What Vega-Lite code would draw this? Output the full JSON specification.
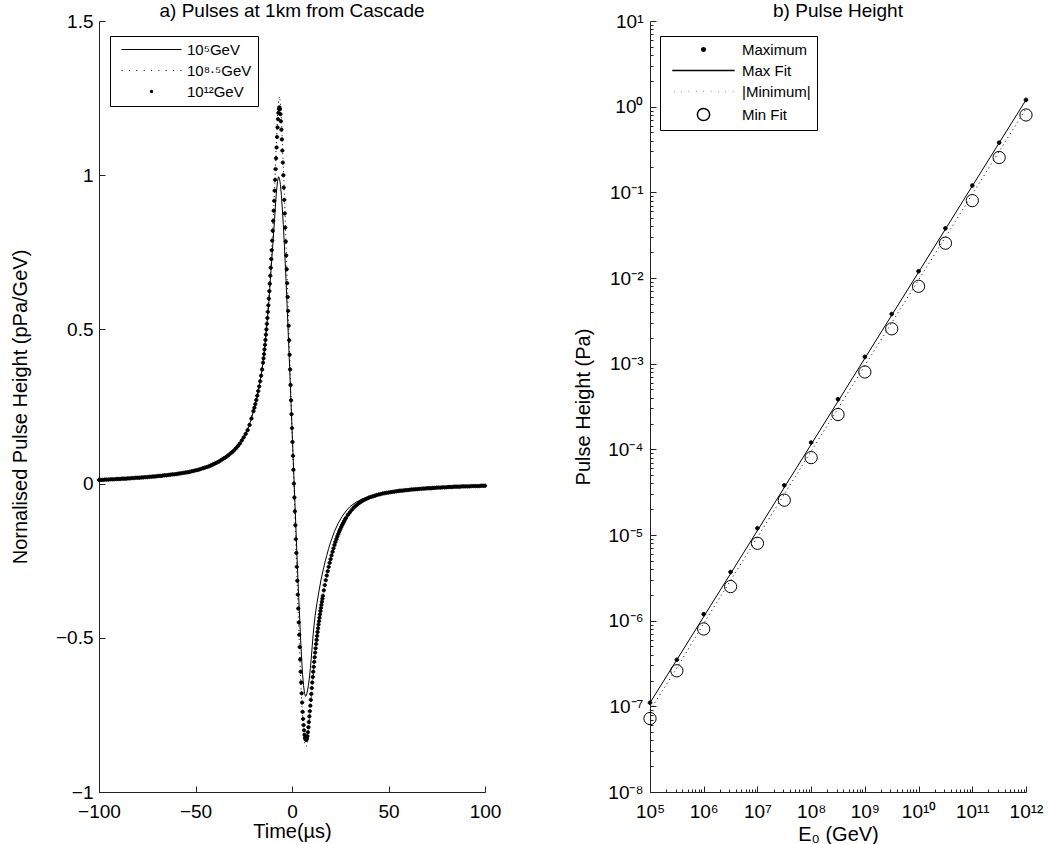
{
  "$schema": "https://vega.github.io/schema/vega-lite/v6.json",
  "background": "white",
  "padding": {"left": 10, "top": 2, "right": 4, "bottom": 2},
  "spacing": 72,
  "resolve": {"scale": {"shape": "independent", "fill": "independent"}, "legend": {"shape": "independent", "fill": "independent"}},
  "config": {
    "font": "Liberation Sans",
    "view": {"stroke": null},
    "axis": {"grid": false, "domainColor": "#222222", "tickColor": "#222222", "labelColor": "#000000", "titleColor": "#000000", "labelFontSize": 19, "titleFontSize": 20, "titleFontWeight": "normal", "domainWidth": 1, "tickWidth": 1, "labelFlush": false},
    "title": {"fontSize": 19, "fontWeight": "normal", "color": "#000000", "offset": -9},
    "legend": {"labelFont": "Liberation Sans", "labelFontSize": 14, "labelColor": "#000000"}
  },
  "datasets": {
    "d12": [
      {"t":-100,"v":0.012},{"t":-99,"v":0.012},{"t":-98,"v":0.012},{"t":-97,"v":0.013},{"t":-96,"v":0.013},{"t":-95,"v":0.013},{"t":-94,"v":0.014},{"t":-93,"v":0.014},{"t":-92,"v":0.014},{"t":-91,"v":0.015},
      {"t":-90,"v":0.015},{"t":-89,"v":0.015},{"t":-88,"v":0.016},{"t":-87,"v":0.016},{"t":-86,"v":0.016},{"t":-85,"v":0.017},{"t":-84,"v":0.017},{"t":-83,"v":0.018},{"t":-82,"v":0.018},{"t":-81,"v":0.019},
      {"t":-80,"v":0.019},{"t":-79,"v":0.019},{"t":-78,"v":0.020},{"t":-77,"v":0.020},{"t":-76,"v":0.021},{"t":-75,"v":0.021},{"t":-74,"v":0.022},{"t":-73,"v":0.022},{"t":-72,"v":0.023},{"t":-71,"v":0.023},
      {"t":-70,"v":0.024},{"t":-69,"v":0.025},{"t":-68,"v":0.025},{"t":-67,"v":0.026},{"t":-66,"v":0.027},{"t":-65,"v":0.027},{"t":-64,"v":0.028},{"t":-63,"v":0.029},{"t":-62,"v":0.030},{"t":-61,"v":0.030},
      {"t":-60,"v":0.031},{"t":-59,"v":0.032},{"t":-58,"v":0.033},{"t":-57,"v":0.034},{"t":-56,"v":0.035},{"t":-55,"v":0.036},{"t":-54,"v":0.037},{"t":-53,"v":0.038},{"t":-52,"v":0.040},{"t":-51,"v":0.041},
      {"t":-50,"v":0.043},{"t":-49,"v":0.044},{"t":-48,"v":0.046},{"t":-47,"v":0.048},{"t":-46,"v":0.050},{"t":-45,"v":0.052},{"t":-44,"v":0.054},{"t":-43,"v":0.056},{"t":-42,"v":0.059},{"t":-41,"v":0.062},
      {"t":-40,"v":0.065},{"t":-39,"v":0.068},{"t":-38,"v":0.071},{"t":-37,"v":0.075},{"t":-36,"v":0.079},{"t":-35,"v":0.083},{"t":-34,"v":0.087},{"t":-33,"v":0.092},{"t":-32,"v":0.097},{"t":-31,"v":0.102},
      {"t":-30,"v":0.108},{"t":-29,"v":0.115},{"t":-28,"v":0.122},{"t":-27,"v":0.130},{"t":-26,"v":0.140},{"t":-25,"v":0.150},{"t":-24,"v":0.161},{"t":-23,"v":0.173},{"t":-22,"v":0.190},{"t":-21,"v":0.211},
      {"t":-20,"v":0.235},{"t":-19.5,"v":0.246},{"t":-19,"v":0.258},{"t":-18.5,"v":0.271},{"t":-18,"v":0.285},{"t":-17.5,"v":0.300},{"t":-17,"v":0.315},{"t":-16.5,"v":0.332},{"t":-16,"v":0.350},{"t":-15.5,"v":0.370},
      {"t":-15,"v":0.392},{"t":-14.75,"v":0.406},{"t":-14.5,"v":0.420},{"t":-14.25,"v":0.435},{"t":-14,"v":0.450},{"t":-13.75,"v":0.466},{"t":-13.5,"v":0.483},{"t":-13.25,"v":0.500},{"t":-13,"v":0.518},{"t":-12.75,"v":0.537},
      {"t":-12.5,"v":0.557},{"t":-12.25,"v":0.578},{"t":-12,"v":0.600},{"t":-11.75,"v":0.624},{"t":-11.5,"v":0.648},{"t":-11.25,"v":0.674},{"t":-11,"v":0.700},{"t":-10.75,"v":0.728},{"t":-10.5,"v":0.757},{"t":-10.25,"v":0.788},
      {"t":-10,"v":0.820},{"t":-9.75,"v":0.852},{"t":-9.5,"v":0.885},{"t":-9.25,"v":0.917},{"t":-9,"v":0.950},{"t":-8.75,"v":0.985},{"t":-8.5,"v":1.020},{"t":-8.25,"v":1.055},{"t":-8,"v":1.090},{"t":-7.75,"v":1.124},
      {"t":-7.5,"v":1.155},{"t":-7.25,"v":1.182},{"t":-7,"v":1.202},{"t":-6.75,"v":1.215},{"t":-6.5,"v":1.220},{"t":-6.25,"v":1.214},{"t":-6,"v":1.198},{"t":-5.75,"v":1.175},{"t":-5.5,"v":1.148},{"t":-5.25,"v":1.116},
      {"t":-5,"v":1.080},{"t":-4.75,"v":1.041},{"t":-4.5,"v":1.000},{"t":-4.25,"v":0.960},{"t":-4,"v":0.920},{"t":-3.75,"v":0.876},{"t":-3.5,"v":0.830},{"t":-3.25,"v":0.785},{"t":-3,"v":0.740},{"t":-2.75,"v":0.695},
      {"t":-2.5,"v":0.650},{"t":-2.25,"v":0.605},{"t":-2,"v":0.560},{"t":-1.75,"v":0.512},{"t":-1.5,"v":0.465},{"t":-1.25,"v":0.418},{"t":-1,"v":0.370},{"t":-0.75,"v":0.320},{"t":-0.5,"v":0.270},{"t":-0.25,"v":0.225},
      {"t":0,"v":0.180},{"t":0.25,"v":0.135},{"t":0.5,"v":0.090},{"t":0.75,"v":0.045},{"t":1,"v":0.000},{"t":1.25,"v":-0.045},{"t":1.5,"v":-0.090},{"t":1.75,"v":-0.135},{"t":2,"v":-0.180},{"t":2.25,"v":-0.225},
      {"t":2.5,"v":-0.270},{"t":2.75,"v":-0.315},{"t":3,"v":-0.360},{"t":3.25,"v":-0.405},{"t":3.5,"v":-0.450},{"t":3.75,"v":-0.490},{"t":4,"v":-0.530},{"t":4.25,"v":-0.570},{"t":4.5,"v":-0.610},{"t":4.75,"v":-0.645},
      {"t":5,"v":-0.680},{"t":5.25,"v":-0.710},{"t":5.5,"v":-0.740},{"t":5.75,"v":-0.763},{"t":6,"v":-0.783},{"t":6.25,"v":-0.800},{"t":6.5,"v":-0.815},{"t":6.75,"v":-0.824},{"t":7,"v":-0.829},{"t":7.25,"v":-0.831},
      {"t":7.5,"v":-0.830},{"t":7.75,"v":-0.826},{"t":8,"v":-0.819},{"t":8.25,"v":-0.806},{"t":8.5,"v":-0.790},{"t":8.75,"v":-0.773},{"t":9,"v":-0.755},{"t":9.25,"v":-0.738},{"t":9.5,"v":-0.720},{"t":9.75,"v":-0.701},
      {"t":10,"v":-0.682},{"t":10.25,"v":-0.663},{"t":10.5,"v":-0.645},{"t":10.75,"v":-0.627},{"t":11,"v":-0.610},{"t":11.25,"v":-0.594},{"t":11.5,"v":-0.578},{"t":11.75,"v":-0.563},{"t":12,"v":-0.548},{"t":12.25,"v":-0.534},
      {"t":12.5,"v":-0.520},{"t":12.75,"v":-0.507},{"t":13,"v":-0.494},{"t":13.25,"v":-0.481},{"t":13.5,"v":-0.469},{"t":13.75,"v":-0.457},{"t":14,"v":-0.446},{"t":14.25,"v":-0.435},{"t":14.5,"v":-0.424},{"t":14.75,"v":-0.413},
      {"t":15,"v":-0.403},{"t":15.25,"v":-0.393},{"t":15.5,"v":-0.383},{"t":15.75,"v":-0.373},{"t":16,"v":-0.364},{"t":16.5,"v":-0.346},{"t":17,"v":-0.329},{"t":17.5,"v":-0.313},{"t":18,"v":-0.298},{"t":18.5,"v":-0.284},
      {"t":19,"v":-0.270},{"t":19.5,"v":-0.257},{"t":20,"v":-0.245},{"t":20.5,"v":-0.233},{"t":21,"v":-0.221},{"t":21.5,"v":-0.210},{"t":22,"v":-0.199},{"t":22.5,"v":-0.189},{"t":23,"v":-0.180},{"t":23.5,"v":-0.171},
      {"t":24,"v":-0.163},{"t":24.5,"v":-0.155},{"t":25,"v":-0.148},{"t":25.5,"v":-0.141},{"t":26,"v":-0.134},{"t":26.5,"v":-0.128},{"t":27,"v":-0.122},{"t":27.5,"v":-0.116},{"t":28,"v":-0.111},{"t":29,"v":-0.101},
      {"t":30,"v":-0.093},{"t":31,"v":-0.085},{"t":32,"v":-0.078},{"t":33,"v":-0.072},{"t":34,"v":-0.067},{"t":35,"v":-0.062},{"t":36,"v":-0.058},{"t":37,"v":-0.054},{"t":38,"v":-0.051},{"t":39,"v":-0.048},
      {"t":40,"v":-0.045},{"t":41,"v":-0.043},{"t":42,"v":-0.041},{"t":43,"v":-0.039},{"t":44,"v":-0.037},{"t":45,"v":-0.035},{"t":46,"v":-0.034},{"t":47,"v":-0.032},{"t":48,"v":-0.031},{"t":49,"v":-0.030},
      {"t":50,"v":-0.029},{"t":51,"v":-0.028},{"t":52,"v":-0.027},{"t":53,"v":-0.026},{"t":54,"v":-0.025},{"t":55,"v":-0.024},{"t":56,"v":-0.023},{"t":57,"v":-0.023},{"t":58,"v":-0.022},{"t":59,"v":-0.021},
      {"t":60,"v":-0.021},{"t":61,"v":-0.020},{"t":62,"v":-0.019},{"t":63,"v":-0.019},{"t":64,"v":-0.018},{"t":65,"v":-0.018},{"t":66,"v":-0.017},{"t":67,"v":-0.017},{"t":68,"v":-0.016},{"t":69,"v":-0.016},
      {"t":70,"v":-0.015},{"t":71,"v":-0.015},{"t":72,"v":-0.015},{"t":73,"v":-0.014},{"t":74,"v":-0.014},{"t":75,"v":-0.013},{"t":76,"v":-0.013},{"t":77,"v":-0.013},{"t":78,"v":-0.012},{"t":79,"v":-0.012},
      {"t":80,"v":-0.012},{"t":81,"v":-0.011},{"t":82,"v":-0.011},{"t":83,"v":-0.011},{"t":84,"v":-0.010},{"t":85,"v":-0.010},{"t":86,"v":-0.010},{"t":87,"v":-0.010},{"t":88,"v":-0.009},{"t":89,"v":-0.009},
      {"t":90,"v":-0.009},{"t":91,"v":-0.009},{"t":92,"v":-0.009},{"t":93,"v":-0.008},{"t":94,"v":-0.008},{"t":95,"v":-0.008},{"t":96,"v":-0.008},{"t":97,"v":-0.008},{"t":98,"v":-0.007},{"t":99,"v":-0.007},
      {"t":100,"v":-0.007}
    ],
    "d5": [
      {"t":-100,"v":0.012},{"t":-90,"v":0.015},{"t":-80,"v":0.019},{"t":-70,"v":0.024},{"t":-60,"v":0.031},{"t":-50,"v":0.043},{"t":-45,"v":0.052},{"t":-40,"v":0.065},{"t":-35,"v":0.083},{"t":-30,"v":0.108},
      {"t":-27,"v":0.130},{"t":-25,"v":0.150},{"t":-23,"v":0.173},{"t":-21,"v":0.211},{"t":-20,"v":0.235},{"t":-19,"v":0.258},{"t":-18,"v":0.285},{"t":-17,"v":0.315},{"t":-16,"v":0.350},{"t":-15,"v":0.392},
      {"t":-14,"v":0.450},{"t":-13,"v":0.515},{"t":-12,"v":0.590},{"t":-11,"v":0.680},{"t":-10,"v":0.770},{"t":-9,"v":0.860},{"t":-8.5,"v":0.910},{"t":-8,"v":0.950},{"t":-7.5,"v":0.980},{"t":-7,"v":0.995},
      {"t":-6.5,"v":0.990},{"t":-6,"v":0.970},{"t":-5.5,"v":0.935},{"t":-5,"v":0.890},{"t":-4.5,"v":0.840},{"t":-4,"v":0.780},{"t":-3.5,"v":0.715},{"t":-3,"v":0.645},{"t":-2.5,"v":0.570},{"t":-2,"v":0.495},
      {"t":-1.5,"v":0.420},{"t":-1,"v":0.340},{"t":-0.5,"v":0.260},{"t":0,"v":0.180},{"t":0.5,"v":0.100},{"t":1,"v":0.020},{"t":1.5,"v":-0.060},{"t":2,"v":-0.140},{"t":2.5,"v":-0.220},{"t":3,"v":-0.300},
      {"t":3.5,"v":-0.370},{"t":4,"v":-0.440},{"t":4.5,"v":-0.510},{"t":5,"v":-0.570},{"t":5.5,"v":-0.620},{"t":6,"v":-0.655},{"t":6.5,"v":-0.680},{"t":7,"v":-0.690},{"t":7.5,"v":-0.686},{"t":8,"v":-0.672},
      {"t":8.5,"v":-0.655},{"t":9,"v":-0.630},{"t":9.5,"v":-0.600},{"t":10,"v":-0.565},{"t":10.5,"v":-0.525},{"t":11,"v":-0.487},{"t":11.5,"v":-0.455},{"t":12,"v":-0.427},{"t":13,"v":-0.385},{"t":14,"v":-0.348},
      {"t":15,"v":-0.313},{"t":16,"v":-0.284},{"t":17,"v":-0.257},{"t":18,"v":-0.233},{"t":19,"v":-0.210},{"t":20,"v":-0.190},{"t":22,"v":-0.155},{"t":24,"v":-0.128},{"t":26,"v":-0.106},{"t":28,"v":-0.089},
      {"t":30,"v":-0.075},{"t":33,"v":-0.061},{"t":36,"v":-0.051},{"t":40,"v":-0.042},{"t":45,"v":-0.034},{"t":50,"v":-0.029},{"t":60,"v":-0.021},{"t":70,"v":-0.016},{"t":80,"v":-0.012},{"t":90,"v":-0.010},
      {"t":100,"v":-0.008}
    ],
    "d85": [
      {"t":-100,"v":0.012},{"t":-80,"v":0.019},{"t":-60,"v":0.031},{"t":-50,"v":0.043},{"t":-40,"v":0.065},{"t":-30,"v":0.108},{"t":-25,"v":0.150},{"t":-20,"v":0.235},{"t":-18,"v":0.285},{"t":-16,"v":0.350},
      {"t":-14,"v":0.450},{"t":-13,"v":0.520},{"t":-12,"v":0.600},{"t":-11,"v":0.700},{"t":-10,"v":0.820},{"t":-9,"v":0.960},{"t":-8.5,"v":1.040},{"t":-8,"v":1.120},{"t":-7.5,"v":1.190},{"t":-7,"v":1.240},
      {"t":-6.5,"v":1.255},{"t":-6,"v":1.235},{"t":-5.5,"v":1.185},{"t":-5,"v":1.110},{"t":-4.5,"v":1.030},{"t":-4,"v":0.945},{"t":-3.5,"v":0.855},{"t":-3,"v":0.760},{"t":-2.5,"v":0.665},{"t":-2,"v":0.570},
      {"t":-1.5,"v":0.475},{"t":-1,"v":0.375},{"t":-0.5,"v":0.275},{"t":0,"v":0.180},{"t":0.5,"v":0.085},{"t":1,"v":-0.010},{"t":1.5,"v":-0.100},{"t":2,"v":-0.195},{"t":2.5,"v":-0.290},{"t":3,"v":-0.380},
      {"t":3.5,"v":-0.470},{"t":4,"v":-0.555},{"t":4.5,"v":-0.635},{"t":5,"v":-0.705},{"t":5.5,"v":-0.765},{"t":6,"v":-0.810},{"t":6.5,"v":-0.838},{"t":7,"v":-0.850},{"t":7.5,"v":-0.852},{"t":8,"v":-0.843},
      {"t":8.5,"v":-0.815},{"t":9,"v":-0.780},{"t":10,"v":-0.700},{"t":11,"v":-0.625},{"t":12,"v":-0.560},{"t":13,"v":-0.505},{"t":14,"v":-0.456},{"t":15,"v":-0.412},{"t":16,"v":-0.372},{"t":17,"v":-0.337},
      {"t":18,"v":-0.305},{"t":19,"v":-0.277},{"t":20,"v":-0.252},{"t":22,"v":-0.206},{"t":24,"v":-0.168},{"t":26,"v":-0.138},{"t":28,"v":-0.114},{"t":30,"v":-0.095},{"t":35,"v":-0.064},{"t":40,"v":-0.046},
      {"t":50,"v":-0.029},{"t":60,"v":-0.021},{"t":70,"v":-0.015},{"t":80,"v":-0.012},{"t":90,"v":-0.009},{"t":100,"v":-0.007}
    ],
    "maxfit": [{"E":100000,"P":1.1e-7},{"E":1000000000000,"P":1.2}],
    "minimum": [
      {"E":100000,"P":9.0e-8},{"E":316228,"P":2.8e-7},{"E":1000000,"P":9.3e-7},{"E":3162278,"P":2.95e-6},{"E":10000000,"P":9.4e-6},
      {"E":31622777,"P":3.0e-5},{"E":100000000,"P":9.5e-5},{"E":316227766,"P":3.0e-4},{"E":1000000000,"P":9.5e-4},{"E":3162277660,"P":3.0e-3},
      {"E":10000000000,"P":9.5e-3},{"E":31622776602,"P":3.0e-2},{"E":100000000000,"P":9.5e-2},{"E":316227766017,"P":0.30},{"E":1000000000000,"P":0.95}
    ],
    "pts": [
      {"E":100000,"P":1.1e-7,"s":"Maximum"},{"E":316228,"P":3.5e-7,"s":"Maximum"},{"E":1000000,"P":1.19e-6,"s":"Maximum"},{"E":3162278,"P":3.7e-6,"s":"Maximum"},{"E":10000000,"P":1.2e-5,"s":"Maximum"},
      {"E":31622777,"P":3.8e-5,"s":"Maximum"},{"E":100000000,"P":1.2e-4,"s":"Maximum"},{"E":316227766,"P":3.85e-4,"s":"Maximum"},{"E":1000000000,"P":1.2e-3,"s":"Maximum"},{"E":3162277660,"P":3.8e-3,"s":"Maximum"},
      {"E":10000000000,"P":1.2e-2,"s":"Maximum"},{"E":31622776602,"P":3.8e-2,"s":"Maximum"},{"E":100000000000,"P":0.12,"s":"Maximum"},{"E":316227766017,"P":0.38,"s":"Maximum"},{"E":1000000000000,"P":1.2,"s":"Maximum"},
      {"E":100000,"P":7.2e-8,"s":"Min Fit"},{"E":316228,"P":2.6e-7,"s":"Min Fit"},{"E":1000000,"P":8.0e-7,"s":"Min Fit"},{"E":3162278,"P":2.5e-6,"s":"Min Fit"},{"E":10000000,"P":8.0e-6,"s":"Min Fit"},
      {"E":31622777,"P":2.55e-5,"s":"Min Fit"},{"E":100000000,"P":8.0e-5,"s":"Min Fit"},{"E":316227766,"P":2.55e-4,"s":"Min Fit"},{"E":1000000000,"P":8.0e-4,"s":"Min Fit"},{"E":3162277660,"P":2.55e-3,"s":"Min Fit"},
      {"E":10000000000,"P":8.0e-3,"s":"Min Fit"},{"E":31622776602,"P":2.55e-2,"s":"Min Fit"},{"E":100000000000,"P":8.0e-2,"s":"Min Fit"},{"E":316227766017,"P":0.255,"s":"Min Fit"},{"E":1000000000000,"P":0.8,"s":"Min Fit"}
    ]
  },
  "hconcat": [
    {
      "title": {"text": "a) Pulses at 1km from Cascade"},
      "width": 386,
      "height": 771,
      "layer": [
        {
          "data": {"name": "d5"},
          "mark": {"type": "line", "color": "black", "strokeWidth": 1},
          "encoding": {
            "x": {"field": "t", "type": "quantitative", "scale": {"domain": [-100, 100], "nice": false},
                  "axis": {"title": "Time(µs)", "values": [-100, -50, 0, 50, 100], "labelExpr": "datum.value < 0 ? '−' + format(-datum.value, '') : format(datum.value, '')", "tickSize": -6, "labelPadding": 16, "titlePadding": 0}},
            "y": {"field": "v", "type": "quantitative", "scale": {"domain": [-1, 1.5], "nice": false, "zero": false},
                  "axis": {"title": "Nornalised Pulse Height (pPa/GeV)", "values": [-1, -0.5, 0, 0.5, 1, 1.5], "labelExpr": "datum.value < 0 ? '−' + format(-datum.value, '') : format(datum.value, '')", "tickSize": -6, "labelPadding": 12, "titlePadding": 25}}
          }
        },
        {
          "data": {"name": "d85"},
          "mark": {"type": "line", "color": "black", "strokeWidth": 1, "strokeDash": [1, 3.5]},
          "encoding": {
            "x": {"field": "t", "type": "quantitative"},
            "y": {"field": "v", "type": "quantitative"}
          }
        },
        {
          "data": {"name": "d12"},
          "mark": {"type": "point", "filled": true, "fill": "black", "stroke": "black", "strokeWidth": 1, "size": 150, "opacity": 1},
          "encoding": {
            "x": {"field": "t", "type": "quantitative"},
            "y": {"field": "v", "type": "quantitative"},
            "shape": {
              "datum": "10¹²GeV", "type": "nominal",
              "scale": {"domain": ["10⁵GeV", "10⁸·⁵GeV", "10¹²GeV"],
                        "range": ["M-4.9,-0.08H4.9V0.08H-4.9Z", "M-4.88,-0.08h0.16v0.16h-0.16ZM-3.68,-0.08h0.16v0.16h-0.16ZM-2.48,-0.08h0.16v0.16h-0.16ZM-1.28,-0.08h0.16v0.16h-0.16ZM-0.08,-0.08h0.16v0.16h-0.16ZM1.12,-0.08h0.16v0.16h-0.16ZM2.32,-0.08h0.16v0.16h-0.16ZM3.52,-0.08h0.16v0.16h-0.16ZM4.72,-0.08h0.16v0.16h-0.16Z", "M-0.27,0A0.27,0.27,0,1,0,0.27,0A0.27,0.27,0,1,0,-0.27,0Z"]},
              "legend": {
                "title": null, "orient": "none", "legendX": 11, "legendY": 15, "direction": "vertical",
                "strokeColor": "black", "fillColor": "white", "padding": 6,
                "symbolSize": 150, "symbolOffset": 28, "labelOffset": 28, "labelFontSize": 15, "rowPadding": 5,
                "symbolStrokeColor": "black", "symbolStrokeWidth": 1, "symbolFillColor": "black",
                "encode": {"symbols": {"update": {"stroke": {"value": "black"}, "strokeWidth": {"value": 1}, "fill": {"value": "black"}, "opacity": {"value": 1}}}}
              }
            }
          }
        }
      ]
    },
    {
      "title": {"text": "b) Pulse Height"},
      "width": 376,
      "height": 771,
      "layer": [
        {
          "data": {"name": "maxfit"},
          "mark": {"type": "line", "color": "black", "strokeWidth": 1},
          "encoding": {
            "x": {"field": "E", "type": "quantitative", "scale": {"type": "log", "domain": [100000, 1000000000000], "nice": false},
                  "axis": {"title": "E₀ (GeV)",
                    "values": [100000,200000,300000,400000,500000,600000,700000,800000,900000,1000000,2000000,3000000,4000000,5000000,6000000,7000000,8000000,9000000,10000000,20000000,30000000,40000000,50000000,60000000,70000000,80000000,90000000,100000000,200000000,300000000,400000000,500000000,600000000,700000000,800000000,900000000,1000000000,2000000000,3000000000,4000000000,5000000000,6000000000,7000000000,8000000000,9000000000,10000000000,20000000000,30000000000,40000000000,50000000000,60000000000,70000000000,80000000000,90000000000,100000000000,200000000000,300000000000,400000000000,500000000000,600000000000,700000000000,800000000000,900000000000,1000000000000],
                    "labelExpr": "abs(log(datum.value)/LN10 - round(log(datum.value)/LN10)) < 0.001 ? ['10⁵','10⁶','10⁷','10⁸','10⁹','10¹⁰','10¹¹','10¹²'][round(log(datum.value)/LN10) - 5] : ''",
                    "tickSize": {"condition": {"test": "abs(log(datum.value)/LN10 - round(log(datum.value)/LN10)) < 0.001", "value": -6}, "value": -3},
                    "labelPadding": 16, "titlePadding": 0, "labelOverlap": false}},
            "y": {"field": "P", "type": "quantitative", "scale": {"type": "log", "domain": [1e-8, 10], "nice": false},
                  "axis": {"title": "Pulse Height (Pa)",
                    "values": [1e-8,2e-8,3e-8,4e-8,5e-8,6e-8,7e-8,8e-8,9e-8,1e-7,2e-7,3e-7,4e-7,5e-7,6e-7,7e-7,8e-7,9e-7,1e-6,2e-6,3e-6,4e-6,5e-6,6e-6,7e-6,8e-6,9e-6,1e-5,2e-5,3e-5,4e-5,5e-5,6e-5,7e-5,8e-5,9e-5,1e-4,2e-4,3e-4,4e-4,5e-4,6e-4,7e-4,8e-4,9e-4,0.001,0.002,0.003,0.004,0.005,0.006,0.007,0.008,0.009,0.01,0.02,0.03,0.04,0.05,0.06,0.07,0.08,0.09,0.1,0.2,0.3,0.4,0.5,0.6,0.7,0.8,0.9,1,2,3,4,5,6,7,8,9,10],
                    "labelExpr": "abs(log(datum.value)/LN10 - round(log(datum.value)/LN10)) < 0.001 ? ['10⁻⁸','10⁻⁷','10⁻⁶','10⁻⁵','10⁻⁴','10⁻³','10⁻²','10⁻¹','10⁰','10¹'][round(log(datum.value)/LN10) + 8] : ''",
                    "tickSize": {"condition": {"test": "abs(log(datum.value)/LN10 - round(log(datum.value)/LN10)) < 0.001", "value": -6}, "value": -3},
                    "labelPadding": 13, "titlePadding": 14, "labelOverlap": false}}
          }
        },
        {
          "data": {"name": "minimum"},
          "mark": {"type": "line", "color": "black", "strokeWidth": 1, "strokeDash": [1, 3.5]},
          "encoding": {
            "x": {"field": "E", "type": "quantitative"},
            "y": {"field": "P", "type": "quantitative"}
          }
        },
        {
          "data": {"name": "pts"},
          "mark": {"type": "point", "filled": true, "size": 150, "stroke": "black", "strokeWidth": 1, "opacity": 1},
          "encoding": {
            "x": {"field": "E", "type": "quantitative"},
            "y": {"field": "P", "type": "quantitative"},
            "fill": {"field": "s", "type": "nominal", "scale": {"domain": ["Maximum", "Max Fit", "|Minimum|", "Min Fit"], "range": ["black", "transparent", "transparent", "transparent"]}, "legend": null},
            "shape": {
              "field": "s", "type": "nominal",
              "scale": {"domain": ["Maximum", "Max Fit", "|Minimum|", "Min Fit"],
                        "range": ["M-0.3,0A0.3,0.3,0,1,0,0.3,0A0.3,0.3,0,1,0,-0.3,0Z", "M-5.1,0H5.1", "M-4.8,0h0.05M-3.6,0h0.05M-2.4,0h0.05M-1.2,0h0.05M0,0h0.05M1.2,0h0.05M2.4,0h0.05M3.6,0h0.05M4.8,0h0.05", "circle"]},
              "legend": {
                "title": null, "orient": "none", "legendX": 10, "legendY": 15, "direction": "vertical",
                "strokeColor": "black", "fillColor": "white", "padding": 6,
                "symbolSize": 150, "symbolOffset": 30, "labelOffset": 31, "labelFontSize": 15, "rowPadding": 5,
                "encode": {"symbols": {"update": {"stroke": {"value": "black"}, "strokeWidth": {"value": 1}, "strokeCap": {"value": "round"}, "fill": {"signal": "datum.value === 'Maximum' ? 'black' : 'transparent'"}, "opacity": {"value": 1}}}}
              }
            }
          }
        }
      ]
    }
  ]
}
